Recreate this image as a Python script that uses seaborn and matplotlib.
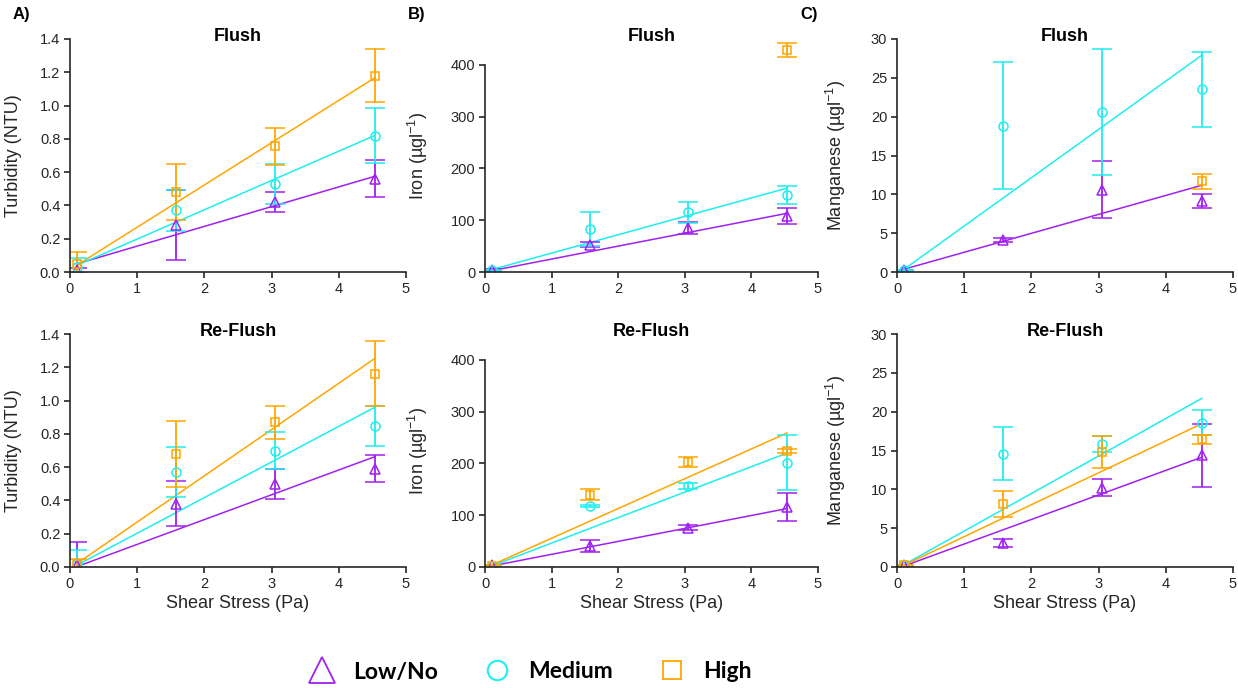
import numpy as np
import pandas as pd
import matplotlib
matplotlib.use("Agg")
import matplotlib.pyplot as plt
from matplotlib.lines import Line2D
from matplotlib.ticker import FormatStrFormatter
import seaborn as sns

# ---- data ----
shear = [0.1, 1.58, 3.05, 4.54]
groups = ["Low/No", "Medium", "High"]
nan = np.nan

# turbidity (NTU)
turb_fl_low = [0.01, 0.28, 0.42, 0.56]
turb_fl_low_err = [0.014, 0.21, 0.06, 0.11]
turb_fl_med = [0.03, 0.37, 0.53, 0.82]
turb_fl_med_err = [0.055, 0.125, 0.12, 0.165]
turb_fl_high = [0.05, 0.48, 0.755, 1.18]
turb_fl_high_err = [0.07, 0.17, 0.11, 0.16]
turb_fl_slope = [0.1186, 0.176, 0.254]
turb_fl_icpt = [0.037, 0.022, 0.015]

turb_rf_low = [0.01, 0.38, 0.50, 0.59]
turb_rf_low_err = [0.14, 0.135, 0.09, 0.08]
turb_rf_med = [0.02, 0.57, 0.70, 0.85]
turb_rf_med_err = [0.085, 0.15, 0.11, 0.12]
turb_rf_high = [0.02, 0.68, 0.87, 1.16]
turb_rf_high_err = [0.03, 0.20, 0.10, 0.195]
turb_rf_slope = [0.149, 0.214, 0.278]
turb_rf_icpt = [-0.013, -0.011, -0.008]

# iron (ug/l)
iron_fl_low = [3, 53, 85, 109]
iron_fl_low_err = [2, 5, 12, 15.5]
iron_fl_med = [3, 83, 115, 149]
iron_fl_med_err = [1, 33, 20, 18]
iron_fl_high = [nan, nan, nan, 428]
iron_fl_high_err = [nan, nan, nan, 13.5]
iron_fl_slope = [25, 35.5, nan]
iron_fl_icpt = [0, 1, nan]

iron_rf_low = [3, 40, 76, 116]
iron_rf_low_err = [1, 11.5, 5, 27]
iron_rf_med = [2, 118, 157, 201]
iron_rf_med_err = [1, 2, 6, 53]
iron_rf_high = [2, 140, 203, 224]
iron_rf_high_err = [1, 10, 9, 4]
iron_rf_slope = [25, 49.2, 57.5]
iron_rf_icpt = [-0.5, -3, -2]

# manganese (ug/l)
mn_fl_low = [0.2, 4.1, 10.6, 9.2]
mn_fl_low_err = [0.1, 0.3, 3.7, 0.9]
mn_fl_med = [0.2, 18.85, 20.6, 23.5]
mn_fl_med_err = [0.1, 8.15, 8.05, 4.85]
mn_fl_high = [nan, nan, nan, 11.7]
mn_fl_high_err = [nan, nan, nan, 0.95]
mn_fl_slope = [2.44, 6.22, nan]
mn_fl_icpt = [0.1, -0.3, nan]

mn_rf_low = [0.2, 3.1, 10.2, 14.4]
mn_rf_low_err = [0.1, 0.55, 1.1, 4.05]
mn_rf_med = [0.2, 14.6, 15.85, 18.6]
mn_rf_med_err = [0.1, 3.4, 1.05, 1.65]
mn_rf_high = [0.2, 8.1, 14.85, 16.45]
mn_rf_high_err = [0.1, 1.7, 2.05, 0.6]
mn_rf_slope = [3.16, 4.83, 4.11]
mn_rf_icpt = [-0.2, -0.2, -0.2]

# ---- style ----
sns.set_theme(style="ticks")
plt.rcParams["font.family"] = ["Liberation Sans", "DejaVu Sans"]
plt.rcParams["mathtext.default"] = "regular"

colors = {"Low/No": "#A020F0", "Medium": "#1EEEEE", "High": "#FFA500"}
markers = {"Low/No": "^", "Medium": "o", "High": "s"}
msizes = {"Low/No": 7.5, "Medium": 6.5, "High": 6.2}
ink = "#262626"

panels = [
    # (row, col, title, ylabel, means, errs, slopes, icpts, ylim, yticks)
    (0, 0, "Flush", "Turbidity (NTU)",
     [turb_fl_low, turb_fl_med, turb_fl_high],
     [turb_fl_low_err, turb_fl_med_err, turb_fl_high_err],
     turb_fl_slope, turb_fl_icpt, 1.4, np.arange(0, 1.41, 0.2)),
    (1, 0, "Re-Flush", "Turbidity (NTU)",
     [turb_rf_low, turb_rf_med, turb_rf_high],
     [turb_rf_low_err, turb_rf_med_err, turb_rf_high_err],
     turb_rf_slope, turb_rf_icpt, 1.4, np.arange(0, 1.41, 0.2)),
    (0, 1, "Flush", "Iron (µgl$^{-1}$)",
     [iron_fl_low, iron_fl_med, iron_fl_high],
     [iron_fl_low_err, iron_fl_med_err, iron_fl_high_err],
     iron_fl_slope, iron_fl_icpt, 450, np.arange(0, 401, 100)),
    (1, 1, "Re-Flush", "Iron (µgl$^{-1}$)",
     [iron_rf_low, iron_rf_med, iron_rf_high],
     [iron_rf_low_err, iron_rf_med_err, iron_rf_high_err],
     iron_rf_slope, iron_rf_icpt, 450, np.arange(0, 401, 100)),
    (0, 2, "Flush", "Manganese (µgl$^{-1}$)",
     [mn_fl_low, mn_fl_med, mn_fl_high],
     [mn_fl_low_err, mn_fl_med_err, mn_fl_high_err],
     mn_fl_slope, mn_fl_icpt, 30, np.arange(0, 31, 5)),
    (1, 2, "Re-Flush", "Manganese (µgl$^{-1}$)",
     [mn_rf_low, mn_rf_med, mn_rf_high],
     [mn_rf_low_err, mn_rf_med_err, mn_rf_high_err],
     mn_rf_slope, mn_rf_icpt, 30, np.arange(0, 31, 5)),
]

W, H = 1238, 688
fig = plt.figure(figsize=(W / 100, H / 100), dpi=100)

col_left = [70, 485, 897]
col_width = [336, 333, 336]
row_bottom = [272, 567]
ax_h = 233
ylab_off = [48, 55, 49]

for row, col, title, ylabel, means, errs, slopes, icpts, ytop, yticks in panels:
    ax = fig.add_axes([col_left[col] / W, 1 - row_bottom[row] / H,
                       col_width[col] / W, ax_h / H])

    # fitted lines
    fit_rows = []
    for g, s, b in zip(groups, slopes, icpts):
        if np.isnan(s):
            continue
        for xv in (shear[0], shear[-1]):
            fit_rows.append({"shear": xv, "value": s * xv + b, "group": g})
    fit_df = pd.DataFrame(fit_rows)
    sns.lineplot(data=fit_df, x="shear", y="value", hue="group",
                 palette=colors, legend=False, ax=ax, lw=1.1,
                 estimator=None, sort=True)

    # means with error bars
    for g, m, e in zip(groups, means, errs):
        ax.errorbar(shear, m, yerr=e, fmt=markers[g], color=colors[g],
                    mfc="none", mec=colors[g], ms=msizes[g], mew=1.1,
                    elinewidth=1.3, capsize=7, capthick=1.3)

    ax.set_xlim(0, 5)
    ax.set_ylim(0, ytop)
    ax.set_xticks(range(6))
    ax.set_yticks(yticks)
    if col == 0:
        ax.yaxis.set_major_formatter(FormatStrFormatter("%.1f"))
    sns.despine(ax=ax)
    ax.spines["left"].set_bounds(0, yticks[-1])
    for sp in ("left", "bottom"):
        ax.spines[sp].set_color(ink)
        ax.spines[sp].set_linewidth(1.2)
    ax.tick_params(direction="out", length=4, width=1.2, color=ink,
                   labelsize=10.5, labelcolor=ink, pad=3)

    ax.set_title(title, fontsize=13, fontweight="bold", color="black",
                 y=1.01, pad=0, va="center")
    ax.set_ylabel(ylabel, fontsize=13, color=ink)
    ax.yaxis.set_label_coords(-ylab_off[col] / col_width[col], 0.5)
    if row == 1:
        ax.set_xlabel("Shear Stress (Pa)", fontsize=13, color=ink)
        ax.xaxis.label.set_va("center")
        ax.xaxis.set_label_coords(0.5, -37 / ax_h)
    else:
        ax.set_xlabel("")

# panel letters
for lab, xp in zip(["A)", "B)", "C)"], [13, 408, 800]):
    fig.text(xp / W, 1 - 14 / H, lab, fontsize=12, fontweight="bold",
             va="center", ha="left", color="black")

# legend
handles = [
    Line2D([], [], ls="none", marker="^", ms=19, mfc="none",
           mec=colors["Low/No"], mew=1.3),
    Line2D([], [], ls="none", marker="o", ms=14, mfc="none",
           mec=colors["Medium"], mew=1.5),
    Line2D([], [], ls="none", marker="s", ms=13, mfc="none",
           mec=colors["High"], mew=1.3),
]
leg = fig.legend(handles, groups, loc="center",
                 bbox_to_anchor=(530 / W, 1 - 672 / H),
                 ncol=3, frameon=False, handlelength=1.2, handletextpad=0.75,
                 columnspacing=2.0,
                 prop={"family": ["Lato", "DejaVu Sans"], "weight": "bold",
                       "size": 16.5})
for t in leg.get_texts():
    t.set_color("black")

fig.savefig("out.png", dpi=100, facecolor="white")
